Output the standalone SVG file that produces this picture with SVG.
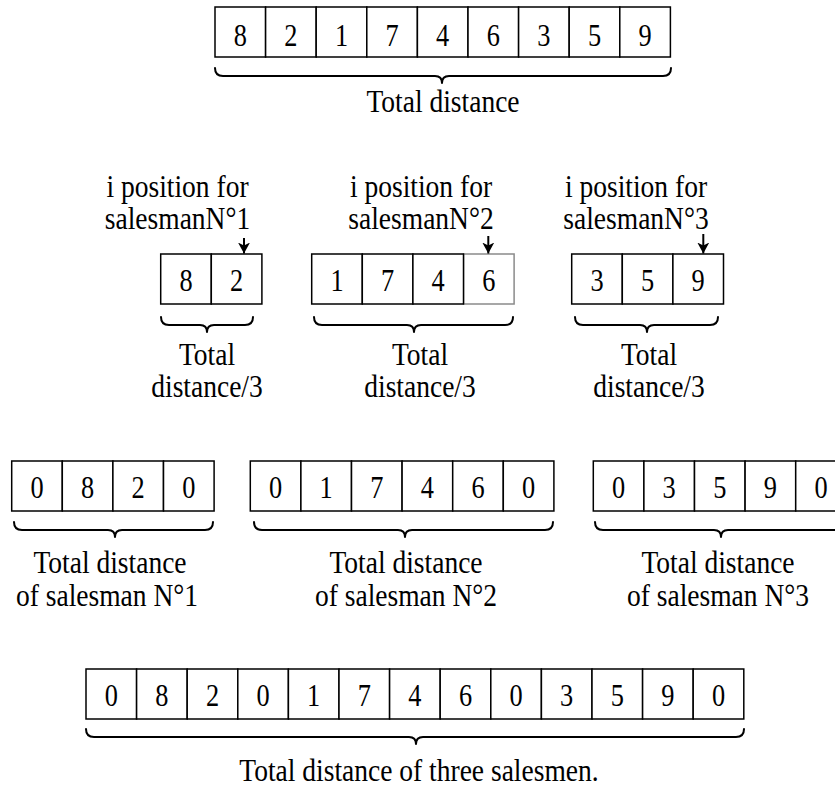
<svg xmlns="http://www.w3.org/2000/svg" width="835" height="790" viewBox="0 0 835 790">
  <style>
    .cell { fill: #fff; stroke: #000; stroke-width: 1.5; }
    .cell-faint { fill: #fff; stroke: #8a8a8a; stroke-width: 1.5; }
    .num { font-family: "Liberation Serif", "Times New Roman", serif; font-size: 31px; text-anchor: middle; fill: #000; }
    .lbl { font-family: "Liberation Serif", "Times New Roman", serif; font-size: 32px; text-anchor: middle; fill: #000; }
    .brace { fill: none; stroke: #000; stroke-width: 2; stroke-linecap: round; stroke-linejoin: round; }
    .arrow { stroke: #000; stroke-width: 2; marker-end: url(#head); }
  </style>
  <defs>
    <marker id="head" markerUnits="userSpaceOnUse" markerWidth="14" markerHeight="14" refX="11" refY="6" orient="auto">
      <path d="M0,0 L11,6 L0,12 L3,6 z" fill="#000"/>
    </marker>
  </defs>

  <!-- full tour -->
  <g id="tour">
    <rect class="cell" x="215" y="7" width="50.6" height="50"/>
    <rect class="cell" x="265.6" y="7" width="50.6" height="50"/>
    <rect class="cell" x="316.2" y="7" width="50.6" height="50"/>
    <rect class="cell" x="366.8" y="7" width="50.6" height="50"/>
    <rect class="cell" x="417.4" y="7" width="50.6" height="50"/>
    <rect class="cell" x="468" y="7" width="50.6" height="50"/>
    <rect class="cell" x="518.6" y="7" width="50.6" height="50"/>
    <rect class="cell" x="569.2" y="7" width="50.6" height="50"/>
    <rect class="cell" x="619.8" y="7" width="50.6" height="50"/>
    <text class="num" transform="translate(240.3,46) scale(0.85,1)">8</text>
    <text class="num" transform="translate(290.9,46) scale(0.85,1)">2</text>
    <text class="num" transform="translate(341.5,46) scale(0.85,1)">1</text>
    <text class="num" transform="translate(392.1,46) scale(0.85,1)">7</text>
    <text class="num" transform="translate(442.7,46) scale(0.85,1)">4</text>
    <text class="num" transform="translate(493.3,46) scale(0.85,1)">6</text>
    <text class="num" transform="translate(543.9,46) scale(0.85,1)">3</text>
    <text class="num" transform="translate(594.5,46) scale(0.85,1)">5</text>
    <text class="num" transform="translate(645.1,46) scale(0.85,1)">9</text>
    <path class="brace" d="M215 68 Q215 76 223 76 H435 Q442 76 442 83 Q442 76 449 76 H663 Q671 76 671 68"/>
    <text class="lbl" transform="translate(443,111.7) scale(0.86,1)">Total distance</text>
  </g>

  <!-- split into three parts -->
  <g id="part1">
    <text class="lbl" transform="translate(177.5,196.7) scale(0.86,1)">i position for</text>
    <text class="lbl" transform="translate(177.5,229) scale(0.86,1)">salesmanN°1</text>
    <rect class="cell" x="160.7" y="254" width="50.6" height="50"/>
    <rect class="cell" x="211.3" y="254" width="50.6" height="50"/>
    <text class="num" transform="translate(186,291) scale(0.85,1)">8</text>
    <text class="num" transform="translate(236.6,291) scale(0.85,1)">2</text>
    <path class="brace" d="M161 317 Q161 325 169 325 H200 Q207 325 207 332 Q207 325 214 325 H245 Q253 325 253 317"/>
    <text class="lbl" transform="translate(207,365) scale(0.86,1)">Total</text>
    <text class="lbl" transform="translate(207,397) scale(0.86,1)">distance/3</text>
  </g>

  <g id="part2">
    <text class="lbl" transform="translate(421,196.7) scale(0.86,1)">i position for</text>
    <text class="lbl" transform="translate(421,229) scale(0.86,1)">salesmanN°2</text>
    <rect class="cell-faint" x="463.5" y="254" width="50.6" height="50"/>
    <rect class="cell" x="311.7" y="254" width="50.6" height="50"/>
    <rect class="cell" x="362.3" y="254" width="50.6" height="50"/>
    <rect class="cell" x="412.9" y="254" width="50.6" height="50"/>
    <text class="num" transform="translate(337,291) scale(0.85,1)">1</text>
    <text class="num" transform="translate(387.6,291) scale(0.85,1)">7</text>
    <text class="num" transform="translate(438.2,291) scale(0.85,1)">4</text>
    <text class="num" transform="translate(488.8,291) scale(0.85,1)">6</text>
    <path class="brace" d="M314 317 Q314 325 322 325 H407 Q414 325 414 332 Q414 325 421 325 H505 Q513 325 513 317"/>
    <text class="lbl" transform="translate(420,365) scale(0.86,1)">Total</text>
    <text class="lbl" transform="translate(420,397) scale(0.86,1)">distance/3</text>
  </g>

  <g id="part3">
    <text class="lbl" transform="translate(636,196.7) scale(0.86,1)">i position for</text>
    <text class="lbl" transform="translate(636,229) scale(0.86,1)">salesmanN°3</text>
    <rect class="cell" x="571.7" y="254" width="50.6" height="50"/>
    <rect class="cell" x="622.3" y="254" width="50.6" height="50"/>
    <rect class="cell" x="672.9" y="254" width="50.6" height="50"/>
    <text class="num" transform="translate(597,291) scale(0.85,1)">3</text>
    <text class="num" transform="translate(647.6,291) scale(0.85,1)">5</text>
    <text class="num" transform="translate(698.2,291) scale(0.85,1)">9</text>
    <path class="brace" d="M575 317 Q575 325 583 325 H640 Q647 325 647 332 Q647 325 654 325 H710 Q718 325 718 317"/>
    <text class="lbl" transform="translate(649,365) scale(0.86,1)">Total</text>
    <text class="lbl" transform="translate(649,397) scale(0.86,1)">distance/3</text>
  </g>

  <!-- per-salesman routes with depot 0 -->
  <g id="route1">
    <rect class="cell" x="11.7" y="461" width="50.6" height="50"/>
    <rect class="cell" x="62.3" y="461" width="50.6" height="50"/>
    <rect class="cell" x="112.9" y="461" width="50.6" height="50"/>
    <rect class="cell" x="163.5" y="461" width="50.6" height="50"/>
    <text class="num" transform="translate(37,498) scale(0.85,1)">0</text>
    <text class="num" transform="translate(87.6,498) scale(0.85,1)">8</text>
    <text class="num" transform="translate(138.2,498) scale(0.85,1)">2</text>
    <text class="num" transform="translate(188.8,498) scale(0.85,1)">0</text>
    <path class="brace" d="M14 522 Q14 530 22 530 H108 Q115 530 115 537 Q115 530 122 530 H205 Q213 530 213 522"/>
    <text class="lbl" transform="translate(110,573) scale(0.86,1)">Total distance</text>
    <text class="lbl" transform="translate(107,606) scale(0.86,1)">of salesman N°1</text>
  </g>

  <g id="route2">
    <rect class="cell" x="250.3" y="461" width="50.6" height="50"/>
    <rect class="cell" x="300.9" y="461" width="50.6" height="50"/>
    <rect class="cell" x="351.5" y="461" width="50.6" height="50"/>
    <rect class="cell" x="402.1" y="461" width="50.6" height="50"/>
    <rect class="cell" x="452.7" y="461" width="50.6" height="50"/>
    <rect class="cell" x="503.3" y="461" width="50.6" height="50"/>
    <text class="num" transform="translate(275.6,498) scale(0.85,1)">0</text>
    <text class="num" transform="translate(326.2,498) scale(0.85,1)">1</text>
    <text class="num" transform="translate(376.8,498) scale(0.85,1)">7</text>
    <text class="num" transform="translate(427.4,498) scale(0.85,1)">4</text>
    <text class="num" transform="translate(478,498) scale(0.85,1)">6</text>
    <text class="num" transform="translate(528.6,498) scale(0.85,1)">0</text>
    <path class="brace" d="M254 522 Q254 530 262 530 H398 Q405 530 405 537 Q405 530 412 530 H545 Q553 530 553 522"/>
    <text class="lbl" transform="translate(406,573) scale(0.86,1)">Total distance</text>
    <text class="lbl" transform="translate(406,606) scale(0.86,1)">of salesman N°2</text>
  </g>

  <g id="route3">
    <rect class="cell" x="593.3" y="461" width="50.6" height="50"/>
    <rect class="cell" x="643.9" y="461" width="50.6" height="50"/>
    <rect class="cell" x="694.5" y="461" width="50.6" height="50"/>
    <rect class="cell" x="745.1" y="461" width="50.6" height="50"/>
    <rect class="cell" x="795.7" y="461" width="50.6" height="50"/>
    <text class="num" transform="translate(618.6,498) scale(0.85,1)">0</text>
    <text class="num" transform="translate(669.2,498) scale(0.85,1)">3</text>
    <text class="num" transform="translate(719.8,498) scale(0.85,1)">5</text>
    <text class="num" transform="translate(770.4,498) scale(0.85,1)">9</text>
    <text class="num" transform="translate(821,498) scale(0.85,1)">0</text>
    <path class="brace" d="M595 522 Q595 530 603 530 H714 Q721 530 721 537 Q721 530 728 530 H838 Q846 530 846 522"/>
    <text class="lbl" transform="translate(718,573) scale(0.86,1)">Total distance</text>
    <text class="lbl" transform="translate(718,606) scale(0.86,1)">of salesman N°3</text>
  </g>

  <!-- merged routes -->
  <g id="merged">
    <rect class="cell" x="86" y="669" width="50.6" height="50"/>
    <rect class="cell" x="136.6" y="669" width="50.6" height="50"/>
    <rect class="cell" x="187.2" y="669" width="50.6" height="50"/>
    <rect class="cell" x="237.8" y="669" width="50.6" height="50"/>
    <rect class="cell" x="288.4" y="669" width="50.6" height="50"/>
    <rect class="cell" x="339" y="669" width="50.6" height="50"/>
    <rect class="cell" x="389.6" y="669" width="50.6" height="50"/>
    <rect class="cell" x="440.2" y="669" width="50.6" height="50"/>
    <rect class="cell" x="490.8" y="669" width="50.6" height="50"/>
    <rect class="cell" x="541.4" y="669" width="50.6" height="50"/>
    <rect class="cell" x="592" y="669" width="50.6" height="50"/>
    <rect class="cell" x="642.6" y="669" width="50.6" height="50"/>
    <rect class="cell" x="693.2" y="669" width="50.6" height="50"/>
    <text class="num" transform="translate(111.3,706) scale(0.85,1)">0</text>
    <text class="num" transform="translate(161.9,706) scale(0.85,1)">8</text>
    <text class="num" transform="translate(212.5,706) scale(0.85,1)">2</text>
    <text class="num" transform="translate(263.1,706) scale(0.85,1)">0</text>
    <text class="num" transform="translate(313.7,706) scale(0.85,1)">1</text>
    <text class="num" transform="translate(364.3,706) scale(0.85,1)">7</text>
    <text class="num" transform="translate(414.9,706) scale(0.85,1)">4</text>
    <text class="num" transform="translate(465.5,706) scale(0.85,1)">6</text>
    <text class="num" transform="translate(516.1,706) scale(0.85,1)">0</text>
    <text class="num" transform="translate(566.7,706) scale(0.85,1)">3</text>
    <text class="num" transform="translate(617.3,706) scale(0.85,1)">5</text>
    <text class="num" transform="translate(667.9,706) scale(0.85,1)">9</text>
    <text class="num" transform="translate(718.5,706) scale(0.85,1)">0</text>
    <path class="brace" d="M86 729 Q86 737 94 737 H409 Q416 737 416 744 Q416 737 423 737 H736 Q744 737 744 729"/>
    <text class="lbl" transform="translate(419,781) scale(0.86,1)">Total distance of three salesmen.</text>
  </g>

  <!-- split-position pointers -->
  <g id="connectors">
    <line class="arrow" x1="244" y1="238" x2="244" y2="253.5"/>
    <line class="arrow" x1="488.3" y1="236" x2="488.3" y2="253.5"/>
    <line class="arrow" x1="703.3" y1="234" x2="703.3" y2="253.5"/>
  </g>
</svg>
